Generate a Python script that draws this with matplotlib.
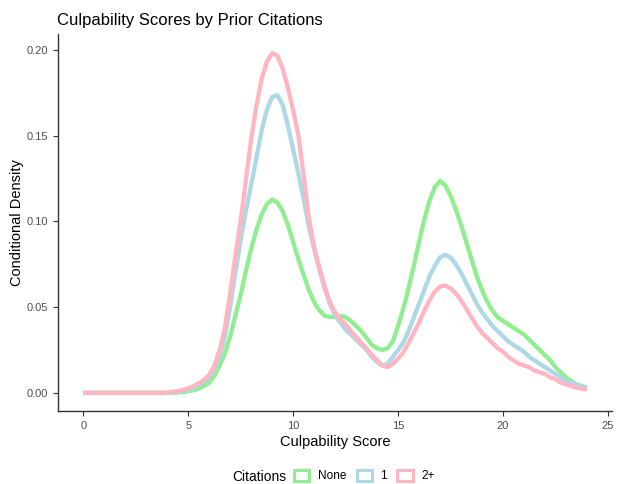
import matplotlib
matplotlib.use("Agg")
import matplotlib.pyplot as plt
from matplotlib.patches import Patch

plt.rcParams['font.family'] = ['Liberation Sans', 'DejaVu Sans']

score = [0.0, 0.25, 0.5, 0.75, 1.0, 1.25, 1.5, 1.75, 2.0, 2.25, 2.5, 2.75,
         3.0, 3.25, 3.5, 3.75, 4.0, 4.25, 4.5, 4.75, 5.0, 5.25, 5.5, 5.75,
         6.0, 6.25, 6.5, 6.75, 7.0, 7.25, 7.5, 7.75, 8.0, 8.25, 8.5, 8.75,
         9.0, 9.25, 9.5, 9.75, 10.0, 10.25, 10.5, 10.75, 11.0, 11.25, 11.5, 11.75,
         12.0, 12.25, 12.5, 12.75, 13.0, 13.25, 13.5, 13.75, 14.0, 14.25, 14.5, 14.75,
         15.0, 15.25, 15.5, 15.75, 16.0, 16.25, 16.5, 16.75, 17.0, 17.25, 17.5, 17.75,
         18.0, 18.25, 18.5, 18.75, 19.0, 19.25, 19.5, 19.75, 20.0, 20.25, 20.5, 20.75,
         21.0, 21.25, 21.5, 21.75, 22.0, 22.25, 22.5, 22.75, 23.0, 23.25, 23.5, 23.75,
         24.0]

dens_none = [0, 0, 0, 0, 0, 0, 0, 0, 0, 0, 0, 0,
             0, 0, 0, 0, 0, 0, 0.0002, 0.0005, 0.001, 0.0015, 0.0025, 0.004,
             0.006, 0.010, 0.016, 0.023, 0.033, 0.045, 0.057, 0.071, 0.084, 0.095, 0.104, 0.110,
             0.1128, 0.111, 0.106, 0.098, 0.088, 0.078, 0.069, 0.060, 0.053, 0.048, 0.045, 0.0443,
             0.0443, 0.0448, 0.0442, 0.042, 0.039, 0.036, 0.032, 0.028, 0.026, 0.025, 0.026, 0.030,
             0.039, 0.049, 0.061, 0.074, 0.088, 0.101, 0.112, 0.120, 0.1235, 0.121, 0.115, 0.107,
             0.098, 0.088, 0.078, 0.068, 0.060, 0.053, 0.048, 0.044, 0.042, 0.040, 0.038, 0.036,
             0.034, 0.031, 0.028, 0.025, 0.022, 0.019, 0.015, 0.012, 0.009, 0.007, 0.005, 0.004,
             0.003]

dens_one = [0, 0, 0, 0, 0, 0, 0, 0, 0, 0, 0, 0,
            0, 0, 0, 0, 0, 0.0004, 0.0008, 0.0013, 0.002, 0.003, 0.0045, 0.0065,
            0.009, 0.014, 0.021, 0.033, 0.050, 0.070, 0.089, 0.106, 0.121, 0.137, 0.153, 0.165,
            0.1725, 0.1735, 0.168, 0.156, 0.142, 0.128, 0.113, 0.097, 0.084, 0.072, 0.061, 0.052,
            0.045, 0.041, 0.037, 0.034, 0.031, 0.028, 0.025, 0.021, 0.018, 0.016, 0.017, 0.021,
            0.025, 0.0294, 0.036, 0.044, 0.052, 0.060, 0.068, 0.074, 0.079, 0.0805, 0.079, 0.075,
            0.070, 0.064, 0.058, 0.052, 0.047, 0.043, 0.039, 0.036, 0.033, 0.030, 0.028, 0.026,
            0.024, 0.021, 0.019, 0.017, 0.015, 0.013, 0.011, 0.009, 0.007, 0.006, 0.005, 0.004,
            0.003]

dens_two = [0, 0, 0, 0, 0, 0, 0, 0, 0, 0, 0, 0,
            0, 0, 0, 0, 0.0003, 0.0006, 0.001, 0.0017, 0.0027, 0.004, 0.0055, 0.0075,
            0.0105, 0.016, 0.025, 0.038, 0.058, 0.080, 0.100, 0.124, 0.148, 0.167, 0.183, 0.193,
            0.198, 0.1965, 0.189, 0.178, 0.165, 0.150, 0.127, 0.102, 0.085, 0.073, 0.062, 0.053,
            0.047, 0.043, 0.040, 0.036, 0.033, 0.029, 0.026, 0.022, 0.019, 0.016, 0.015, 0.017,
            0.020, 0.0236, 0.029, 0.035, 0.041, 0.048, 0.054, 0.059, 0.062, 0.0625, 0.061, 0.058,
            0.054, 0.049, 0.044, 0.039, 0.035, 0.032, 0.029, 0.026, 0.024, 0.021, 0.019, 0.017,
            0.016, 0.015, 0.013, 0.012, 0.011, 0.009, 0.008, 0.006, 0.005, 0.004, 0.003, 0.0025,
            0.002]

groups = ["None", "1", "2+"]
colors = ["#90EE90", "#ADD8E6", "#FFB6C1"]
series = [dens_none, dens_one, dens_two]

fig = plt.figure(figsize=(6.24, 4.84), dpi=100)
ax = fig.add_axes([0.093, 0.151, 0.888, 0.778])

for vals, c in zip(series, colors):
    ax.plot(score, vals, color=c, lw=3.1, solid_joinstyle='round', solid_capstyle='butt')

ax.set_xlim(-1.2, 25.2)
ax.set_ylim(-0.0105, 0.209)
ax.set_xticks([0, 5, 10, 15, 20, 25])
ax.set_yticks([0.0, 0.05, 0.10, 0.15, 0.20])
ax.set_yticklabels(["0.00", "0.05", "0.10", "0.15", "0.20"])
for s in ["top", "right"]:
    ax.spines[s].set_visible(False)
for s in ["left", "bottom"]:
    ax.spines[s].set_color("#333333")
    ax.spines[s].set_linewidth(1.0)
ax.tick_params(colors="#333333", labelcolor="#4D4D4D", labelsize=8, length=3.5, width=0.8)
ax.set_xlabel("Culpability Score", fontsize=10.5, labelpad=3)
ax.set_ylabel("Conditional Density", fontsize=10.5, labelpad=2)

fig.text(57/624, 1 - 20/484, "Culpability Scores by Prior Citations", fontsize=12,
         ha="left", va="center", color="black")

fig.text(232/624, 1 - 477/484, "Citations", fontsize=10, ha="left", va="center")
handles = [Patch(facecolor="white", edgecolor=c, linewidth=2.2) for c in colors]
fig.legend(handles, groups, loc="center left", bbox_to_anchor=(294/624, 1 - 476/484),
           ncol=3, frameon=False, fontsize=8.5, handlelength=1.3, handleheight=1.1,
           handletextpad=0.7, columnspacing=0.9, borderaxespad=0, borderpad=0)

fig.savefig("out.png", dpi=100)
